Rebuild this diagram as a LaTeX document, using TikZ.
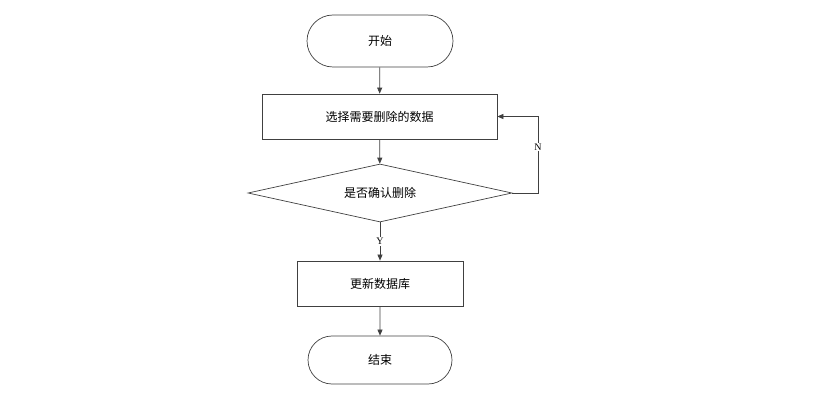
\documentclass[tikz,border=0pt]{standalone}
\usepackage{fontspec}
\setmainfont{Liberation Serif}
\newfontfamily\cjk{Noto Sans CJK SC}
\usetikzlibrary{shapes.geometric,shapes.misc,arrows.meta}
\definecolor{ln}{HTML}{404040}
\tikzset{
  every node/.style={font=\cjk\fontsize{12}{14}\selectfont, text=black},
  term/.style={draw=ln, line width=0.7pt, rounded rectangle, minimum width=146pt, minimum height=52pt, inner sep=0pt},
  proc/.style={draw=ln, line width=0.7pt, rectangle, inner sep=0pt},
  dec/.style={draw=ln, line width=0.7pt, diamond, aspect=4.55, inner sep=0pt, minimum width=264pt, minimum height=58pt},
  conn/.style={draw=ln, line width=0.7pt, -{Triangle[length=6pt,width=5pt]}},
  lab/.style={font=\fontsize{10}{11}\selectfont, fill=white, inner sep=1pt}
}
\begin{document}
\begin{tikzpicture}[x=1pt,y=-1pt]
\useasboundingbox (0,0) rectangle (839,393);
\node[term] (start) at (380,41) {开始};
\node[proc, minimum width=235pt, minimum height=45pt] (sel) at (379.5,116.5) {选择需要删除的数据};
\node[dec] (chk) at (380,193) {是否确认删除};
\node[proc, minimum width=166pt, minimum height=45pt] (upd) at (380,283.5) {更新数据库};
\node[term, minimum width=144pt, minimum height=48pt] (end) at (380,360) {结束};
\coordinate (c1) at (538,193);
\coordinate (c2) at (538,116.5);
\draw[conn] (start) -- (sel);
\draw[conn] (sel) -- (chk);
\draw[conn] (chk) -- node[lab, pos=0.5] {Y} (upd);
\draw[conn] (upd) -- (end);
\draw[conn] (chk.east) -- (c1) -- node[lab, pos=0.6] {N} (c2) -- (sel.east);
\end{tikzpicture}
\end{document}
